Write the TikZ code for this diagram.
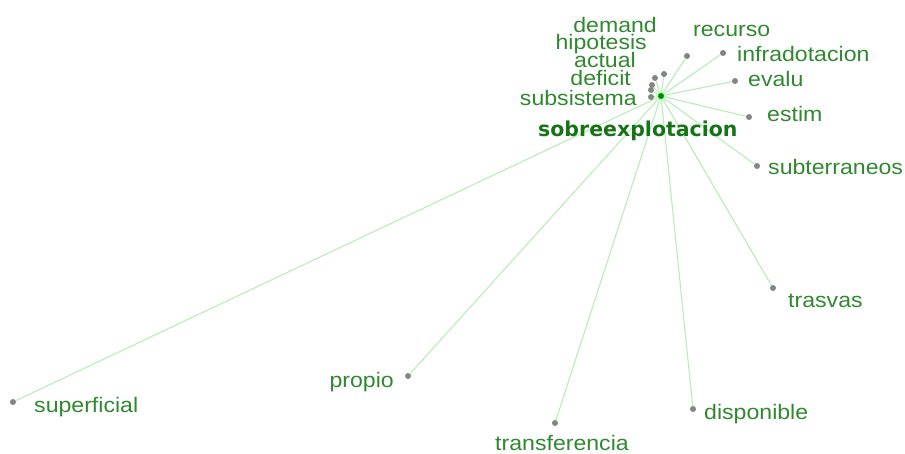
\documentclass[tikz,border=0pt]{standalone}
\usepackage{fontspec}
\setmainfont{Liberation Sans}[FakeStretch=1.1]
\newfontfamily\hubfont{DejaVu Sans}
\usetikzlibrary{positioning,backgrounds}

\definecolor{wordgreen}{RGB}{48,136,48}
\definecolor{hubgreen}{RGB}{22,116,22}
\definecolor{linkgreen}{RGB}{186,236,186}
\definecolor{dotgray}{RGB}{132,132,132}

\begin{document}
\begin{tikzpicture}[
  x=1pt, y=-1pt,
  term/.style={
    circle,
    fill=dotgray,
    inner sep=0pt,
    minimum size=6pt
  },
  hub/.style={
    circle,
    fill=green!55!black,
    draw=green!25,
    line width=2.5pt,
    inner sep=0pt,
    minimum size=9pt
  },
  word/.style={
    text=wordgreen,
    font=\fontsize{21}{23}\selectfont,
    inner sep=0pt
  },
  hub word/.style={
    text=hubgreen,
    font=\hubfont\bfseries\fontsize{20.5}{23}\selectfont,
    inner sep=0pt
  },
  link/.style={draw=linkgreen,line width=1.1pt}
]
  \useasboundingbox (0,0) rectangle (905,454);

  % centre term
  \node[hub] (sobre) at (661,96) {};
  \node[hub word,anchor=base west] (sobre-w) at (538,137) {sobreexplotacion};

  % close cluster
  \node[term] (demand) at (664,74) {};
  \node[term] (hipotesis) at (655,78) {};
  \node[term] (actual) at (652,85) {};
  \node[term] (deficit) at (651,90) {};
  \node[term] (subsistema) at (651,97) {};
  \node[word,anchor=base east] (demand-w) at (657,33) {demand};
  \node[word,anchor=base east] (hipotesis-w) at (647,50) {hipotesis};
  \node[word,anchor=base east] (actual-w) at (636,68) {actual};
  \node[word,anchor=base east] (deficit-w) at (631,86) {deficit};
  \node[word,anchor=base east] (subsistema-w) at (637,106) {subsistema};

  % right side
  \node[term] (recurso) at (687,56) {};
  \node[term] (infradotacion) at (723,53) {};
  \node[term] (evalu) at (735,81) {};
  \node[term] (estim) at (749,117) {};
  \node[term] (subterraneos) at (757,166) {};
  \node[term] (trasvas) at (773,288) {};
  \node[word,anchor=base west] (recurso-w) at (693,37) {recurso};
  \node[word,anchor=base west] (infradotacion-w) at (737,62) {infradotacion};
  \node[word,anchor=base west] (evalu-w) at (748,87) {evalu};
  \node[word,anchor=base west] (estim-w) at (767,122) {estim};
  \node[word,anchor=base west] (subterraneos-w) at (768,175) {subterraneos};
  \node[word,anchor=base west] (trasvas-w) at (788,308) {trasvas};

  % bottom
  \node[term] (disponible) at (693,409) {};
  \node[term] (transferencia) at (555,423) {};
  \node[term] (propio) at (408,376) {};
  \node[term] (superficial) at (13,402) {};
  \node[word,anchor=base west] (disponible-w) at (704,419) {disponible};
  \node[word,anchor=base] (transferencia-w) at (562,450) {transferencia};
  \node[word,anchor=base east] (propio-w) at (394,387) {propio};
  \node[word,anchor=base west] (superficial-w) at (34,412) {superficial};

  % links, behind the words
  \begin{scope}[on background layer]
  \draw[link] (sobre)--(demand);
  \draw[link] (sobre)--(hipotesis);
  \draw[link] (sobre)--(actual);
  \draw[link] (sobre)--(deficit);
  \draw[link] (sobre)--(subsistema);
  \draw[link] (sobre)--(recurso);
  \draw[link] (sobre)--(infradotacion);
  \draw[link] (sobre)--(evalu);
  \draw[link] (sobre)--(estim);
  \draw[link] (sobre)--(subterraneos);
  \draw[link] (sobre)--(trasvas);
  \draw[link] (sobre)--(disponible);
  \draw[link] (sobre)--(transferencia);
  \draw[link] (sobre)--(propio);
  \draw[link] (sobre)--(superficial);
  \end{scope}
\end{tikzpicture}
\end{document}
